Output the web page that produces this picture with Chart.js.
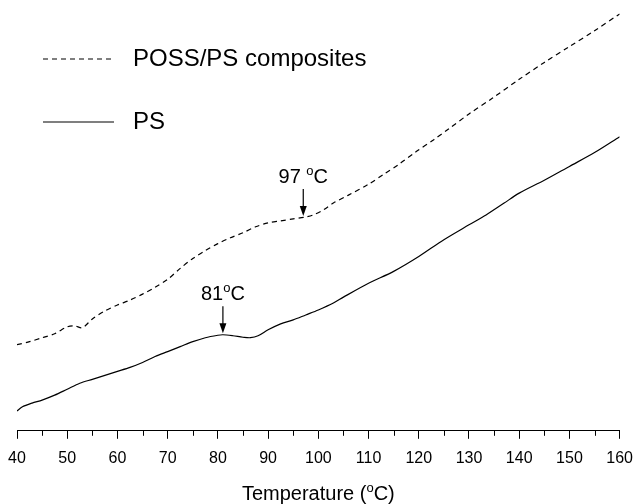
<!DOCTYPE html>
<html>
<head>
<meta charset="utf-8">
<script src="https://cdn.jsdelivr.net/npm/chart.js@4.4.0/dist/chart.umd.min.js"></script>
<style>
    html, body { margin: 0; padding: 0; background: #fff; }
    .chart-box { width: 637px; height: 504px; position: relative; }
</style>
</head>
<body>
<div class="chart-box"><canvas id="chart"></canvas></div>
<script>
const FONT = "'Liberation Sans', Arial, Helvetica, sans-serif";

// POSS/PS composites (dashed)
const compTemps = [40, 42.5, 45, 47.5, 50, 51.5, 53, 55, 57.5, 60, 62.5, 65, 67.5, 70, 72.5, 75, 77.5, 80, 82.5, 85, 87.5, 90, 92.5, 95, 97.5, 99, 101, 103, 106, 110, 113, 116, 119.5, 123, 126, 130, 134.7, 140, 145, 150, 155, 160];
const compValues = [8.7, 9.0, 9.4, 9.8, 10.5, 10.6, 10.4, 11.3, 12.1, 12.7, 13.2, 13.8, 14.5, 15.3, 16.4, 17.4, 18.2, 18.9, 19.5, 20.0, 20.6, 21.0, 21.2, 21.4, 21.6, 21.8, 22.3, 23.0, 23.8, 24.9, 25.9, 26.9, 28.2, 29.4, 30.5, 32.0, 33.6, 35.5, 37.2, 38.8, 40.4, 42.1];

// PS (solid)
const psTemps = [40, 41, 43, 45, 47.5, 50, 52.5, 55, 57.5, 60, 62.5, 65, 67.5, 70, 72.5, 75, 77.5, 80, 81, 83, 85, 86.5, 88, 90, 92.5, 95, 97.5, 100, 103, 105, 110, 115, 120, 125, 130, 133.4, 137, 140, 145, 150, 155, 160];
const psValues = [2.0, 2.4, 2.8, 3.1, 3.6, 4.2, 4.8, 5.2, 5.6, 6.0, 6.4, 6.9, 7.5, 8.0, 8.5, 9.0, 9.4, 9.65, 9.7, 9.6, 9.45, 9.4, 9.6, 10.2, 10.8, 11.2, 11.7, 12.2, 12.9, 13.5, 14.9, 16.1, 17.6, 19.3, 20.8, 21.8, 23.0, 24.0, 25.3, 26.7, 28.1, 29.7];

const seriesNames = ['POSS/PS composites', 'PS'];

// transition markers: temperature, label number, arrow tip value
const markTemps = [97, 81];
const markLabels = ['97 ', '81'];
const markTips = [21.7, 9.85];

const xTicks = [40, 50, 60, 70, 80, 90, 100, 110, 120, 130, 140, 150, 160];

function toPoints(xs, ys) {
    return xs.map((x, i) => ({ x: x, y: ys[i] }));
}

// draw "text" + superscript o + "C"
function degreeText(ctx, pre, x, y, size, align) {
    const big = size + 'px ' + FONT;
    const small = Math.round(size * 0.65) + 'px ' + FONT;
    ctx.font = big;
    const w1 = ctx.measureText(pre).width;
    ctx.font = small;
    const wo = ctx.measureText('o').width;
    const post = align === 'title' ? 'C)' : 'C';
    ctx.font = big;
    const wPost = ctx.measureText(post).width;
    const total = w1 + wo + wPost;
    const sx = x - total / 2;
    ctx.textAlign = 'left';
    ctx.textBaseline = 'alphabetic';
    ctx.fillText(pre, sx, y);
    ctx.font = small;
    ctx.fillText('o', sx + w1, y - size * 0.4);
    ctx.font = big;
    ctx.fillText(post, sx + w1 + wo, y);
}

const extras = {
    id: 'extras',
    afterDraw(chart) {
        const ctx = chart.ctx;
        const xs = chart.scales.x;
        const ys = chart.scales.y;
        const area = chart.chartArea;
        ctx.save();
        ctx.fillStyle = '#000';
        ctx.strokeStyle = '#000';

        // minor ticks
        ctx.lineWidth = 1;
        for (let v = 45; v < 160; v += 10) {
            const px = Math.round(xs.getPixelForValue(v)) + 0.5;
            ctx.beginPath();
            ctx.moveTo(px, area.bottom);
            ctx.lineTo(px, area.bottom + 5);
            ctx.stroke();
        }

        // axis title
        degreeText(ctx, 'Temperature (', (area.left + area.right) / 2, 500, 20, 'title');

        // legend
        const legendY = [59, 122];
        const dashes = [[5, 4], []];
        seriesNames.forEach((name, i) => {
            ctx.lineWidth = 1.2;
            ctx.setLineDash(dashes[i]);
            ctx.beginPath();
            ctx.moveTo(43, legendY[i]);
            ctx.lineTo(114, legendY[i]);
            ctx.stroke();
            ctx.setLineDash([]);
            ctx.font = '24px ' + FONT;
            ctx.textAlign = 'left';
            ctx.textBaseline = 'middle';
            ctx.fillText(name, 133, legendY[i]);
        });

        // arrows + labels
        markTemps.forEach((t, i) => {
            const px = xs.getPixelForValue(t);
            const tip = ys.getPixelForValue(markTips[i]);
            ctx.lineWidth = 1.2;
            ctx.beginPath();
            ctx.moveTo(px, tip - 27);
            ctx.lineTo(px, tip - 8);
            ctx.stroke();
            ctx.beginPath();
            ctx.moveTo(px, tip);
            ctx.lineTo(px - 3.5, tip - 10);
            ctx.lineTo(px + 3.5, tip - 10);
            ctx.closePath();
            ctx.fill();
            degreeText(ctx, markLabels[i], px, tip - 33, 20, 'center');
        });
        ctx.restore();
    }
};

new Chart(document.getElementById('chart'), {
    type: 'line',
    data: {
        datasets: [{
            label: seriesNames[0],
            data: toPoints(compTemps, compValues),
            borderColor: '#000',
            borderWidth: 1.2,
            borderDash: [5, 4],
            pointRadius: 0,
            tension: 0.3,
            fill: false
        }, {
            label: seriesNames[1],
            data: toPoints(psTemps, psValues),
            borderColor: '#000',
            borderWidth: 1.2,
            pointRadius: 0,
            tension: 0.3,
            fill: false
        }]
    },
    options: {
        responsive: true,
        maintainAspectRatio: false,
        animation: false,
        layout: { padding: { top: 5, left: 17, right: 17, bottom: 26 } },
        plugins: {
            legend: { display: false },
            tooltip: { enabled: false }
        },
        scales: {
            x: {
                type: 'linear',
                min: 40,
                max: 160,
                afterBuildTicks: (scale) => {
                    scale.ticks = xTicks.map(v => ({ value: v }));
                },
                ticks: {
                    color: '#000',
                    font: { family: FONT, size: 16, lineHeight: 1.95 },
                    padding: 4,
                    maxRotation: 0,
                    autoSkip: false
                },
                grid: {
                    drawOnChartArea: false,
                    drawTicks: true,
                    tickLength: 8,
                    color: '#000',
                    lineWidth: 1
                },
                border: { display: true, color: '#000', width: 1 }
            },
            y: {
                display: false,
                min: 0,
                max: 43
            }
        }
    },
    plugins: [extras]
});
</script>
</body>
</html>
